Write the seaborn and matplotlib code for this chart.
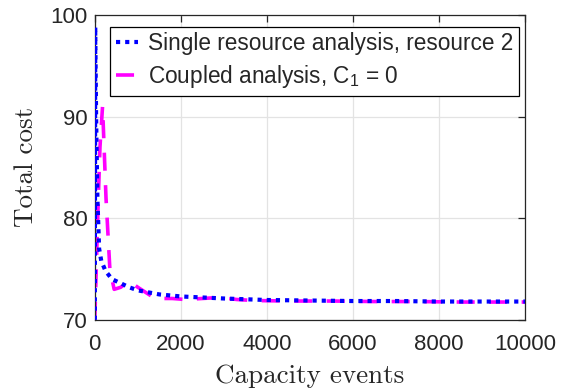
import matplotlib
matplotlib.use("Agg")
import matplotlib.pyplot as plt
import numpy as np
import pandas as pd
import seaborn as sns

# Single resource analysis (resource 2): total cost vs. number of capacity events
single_events = [0, 10, 30, 60, 100, 150, 250, 400, 600, 800, 1000, 1500, 2000,
                 3000, 4000, 5000, 6000, 7000, 8000, 9000, 10000]
single_cost = [70.0, 98.8, 90.0, 82.0, 77.0, 75.8, 74.8, 74.0, 73.6, 73.2, 72.9,
               72.5, 72.3, 72.1, 71.95, 71.9, 71.85, 71.85, 71.8, 71.8, 71.8]

# Coupled analysis with C1 = 0
coupled_events = [0, 60, 120, 180, 260, 350, 450, 600, 800, 1000, 1400, 1800,
                  2100, 2500, 2900, 3300, 3700, 4500, 5500, 6500, 7500, 8500,
                  9500, 10000]
coupled_cost = [70.0, 79.0, 87.0, 91.0, 82.0, 75.0, 73.0, 73.2, 73.8, 73.2, 72.1,
                72.1, 72.0, 72.1, 72.2, 72.0, 71.9, 71.85, 71.85, 71.8, 71.8,
                71.75, 71.75, 71.75]

series_labels = ["Single resource analysis, resource 2",
                 "Coupled analysis, C$_1$ = 0"]
x_ticks = [0, 2000, 4000, 6000, 8000, 10000]
y_ticks = [70, 80, 90, 100]

sns.set_theme(style="white")
plt.rcParams["font.family"] = ["Liberation Sans", "DejaVu Sans"]
plt.rcParams["mathtext.fontset"] = "custom"
plt.rcParams["mathtext.rm"] = "Liberation Sans"
plt.rcParams["mathtext.it"] = "Liberation Sans"

single_df = pd.DataFrame({"events": single_events, "cost": single_cost})
coupled_df = pd.DataFrame({"events": coupled_events, "cost": coupled_cost})

fig = plt.figure(figsize=(5.61, 3.91), dpi=100)
ax = fig.add_axes([0.169, 0.182, 0.767, 0.780])

sns.lineplot(data=single_df, x="events", y="cost", ax=ax, color=(0, 0, 1),
             linewidth=3.0, label=series_labels[0], zorder=3)
sns.lineplot(data=coupled_df, x="events", y="cost", ax=ax, color=(1, 0, 1),
             linewidth=2.6, label=series_labels[1], zorder=2)
ax.lines[0].set_dashes((1.0, 1.2))
ax.lines[1].set_dashes((5.0, 4.0))

ax.set_xlim(0, 10000)
ax.set_ylim(70, 100)
ax.set_xticks(x_ticks)
ax.set_yticks(y_ticks)
ax.grid(True, color="#e3e3e3", linewidth=0.9)
ax.set_axisbelow(True)
for side in ax.spines.values():
    side.set_color("#262626")
    side.set_linewidth(0.9)
ax.tick_params(direction="in", length=5, width=0.9, top=True, right=True,
               labelsize=16, colors="#262626")
ax.tick_params(axis="x", pad=10)
ax.tick_params(axis="y", pad=5)

ax.set_xlabel("Capacity events", fontfamily="cmr10", fontsize=19.5,
              color="#262626", labelpad=7)
ax.set_ylabel("Total cost", fontfamily="cmr10", fontsize=19.5,
              color="#262626", labelpad=9)

leg = ax.legend(loc="upper left", bbox_to_anchor=(0.035, 0.961), fontsize=16.3,
                frameon=True, fancybox=False, edgecolor="black",
                handlelength=1.0, handletextpad=0.45, borderpad=0.25,
                labelspacing=0.35, borderaxespad=0)
leg.get_frame().set_linewidth(0.9)
leg.get_frame().set_facecolor("white")
leg.get_frame().set_alpha(1)

fig.savefig("out.png", dpi=100)
